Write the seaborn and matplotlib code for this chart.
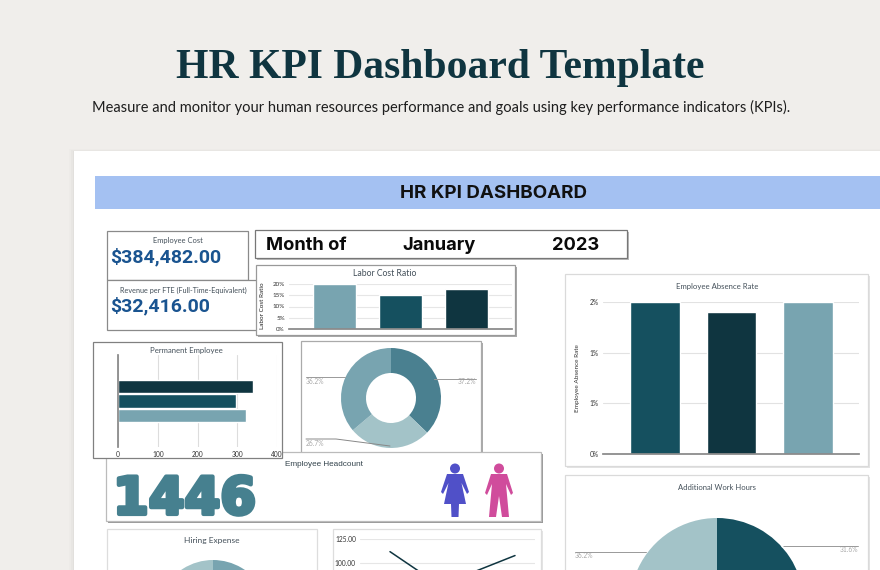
import matplotlib
matplotlib.use('Agg')
import matplotlib.pyplot as plt
from matplotlib.patches import Rectangle, Circle, Polygon
import matplotlib.patheffects as pe
import pandas as pd
import seaborn as sns

# values
labor_cats = ['A', 'B', 'C']
labor_vals = [20, 15, 18]
labor_ticks = [0, 5, 10, 15, 20]

perm_cats = ['Full', 'Part', 'Contract']
perm_vals = [340, 298, 323]
perm_ticks = [0, 100, 200, 300, 400]

donut_vals = [37.2, 26.7, 36.2]

absence_cats = ['A', 'B', 'C']
absence_vals = [2.0, 1.87, 2.0]
absence_ticks = [0, 0.667, 1.333, 2]
absence_labels = ['0%', '1%', '1%', '2%']

hours_vals = [31.6, 32.2, 36.2]
hiring_vals = [34, 30, 36]

line_x = [1, 2, 3, 4]
line_vals = [112, 83, 91, 108]
line_ticks = [100, 125]

LIGHT = '#78A4B0'
MID = '#15505F'
DARK = '#0F3540'
PALE = '#A3C3C8'
TEAL = '#4A8090'
TXT = '#44505A'
W, H = 880, 570

sns.set_theme(style='white')
plt.rcParams['font.family'] = ['Lato', 'DejaVu Sans']
plt.rcParams['axes.unicode_minus'] = False

fig = plt.figure(figsize=(W / 100, H / 100), dpi=100, facecolor='#F0EEEB')
bg = fig.add_axes([0, 0, 1, 1], zorder=0)
bg.set_xlim(0, W)
bg.set_ylim(H, 0)
bg.axis('off')

# thin layer above the charts for the leader lines
top = fig.add_axes([0, 0, 1, 1], zorder=5)
top.set_xlim(0, W)
top.set_ylim(H, 0)
top.axis('off')


def px_axes(x0, y0, x1, y1):
    # axes from pixel box, y counted from the top
    ax = fig.add_axes([x0 / W, 1 - y1 / H, (x1 - x0) / W, (y1 - y0) / H], zorder=2)
    ax.patch.set_alpha(0)
    return ax


def box(x0, y0, x1, y1, ec='#8A8A8A', lw=0.9, shadow=None):
    if shadow:
        bg.add_patch(Rectangle((x0 + 1.5, y0 + 1.5), x1 - x0, y1 - y0, fc=shadow, ec='none'))
    bg.add_patch(Rectangle((x0, y0), x1 - x0, y1 - y0, fc='white', ec=ec, lw=lw))


def clean(ax):
    for s in ax.spines.values():
        s.set_visible(False)
    ax.set_xlabel('')
    ax.set_ylabel('')


# page
for i, a in enumerate([0.03, 0.05, 0.07]):
    bg.add_patch(Rectangle((74 - 5 + i * 2, 151 - 2 + i), 830, 430, fc='#999999', alpha=a, ec='none'))
bg.add_patch(Rectangle((74, 151), 810, 425, fc='white', ec='none'))
bg.add_patch(Rectangle((95, 176), 790, 33, fc='#A4C1F2', ec='none'))

bg.text(440, 68, 'HR KPI Dashboard Template', family='Liberation Serif', weight='bold',
        fontsize=30, color='#0F3540', ha='center', va='center')
bg.text(441, 107, 'Measure and monitor your human resources performance and goals using key performance indicators (KPIs).',
        fontsize=10.5, color='#1E1E1E', ha='center', va='center')
bg.text(494, 193, 'HR KPI DASHBOARD', family='Inter', weight='bold', fontsize=13.5,
        color='#111111', ha='center', va='center')

# boxes
box(107, 231, 248, 280, ec='#8A8A8A')
box(107, 280, 258, 330, ec='#8A8A8A')
box(255, 230, 627, 258, ec='#777777', shadow='#BBBBBB')
box(256, 265, 515, 335, ec='#999999', shadow='#AAAAAA')
box(301, 341, 481, 454, ec='#AAAAAA', shadow='#AAAAAA')
box(106, 452, 541, 521, ec='#BBBBBB', shadow='#999999')
box(93, 342, 282, 458, ec='#808080')
box(565, 274, 868, 466, ec='#DADADA', shadow='#E4E4E4')
box(565, 475, 868, 590, ec='#DADADA', shadow='#E4E4E4')
box(107, 529, 317, 590, ec='#DDDDDD')
box(333, 529, 541, 590, ec='#DDDDDD', shadow='#E4E4E4')

# kpi text
bg.text(178, 241, 'Employee Cost', fontsize=5.4, color=TXT, ha='center', va='center')
bg.text(110, 257, '$384,482.00', family='Roboto', weight='bold', fontsize=14, color='#1A5490', va='center')
bg.text(183, 290, 'Revenue per FTE (Full-Time-Equivalent)', fontsize=5.2, color=TXT, ha='center', va='center')
bg.text(110, 306, '$32,416.00', family='Roboto', weight='bold', fontsize=14, color='#1A5490', va='center')
for x, s in [(266, 'Month of'), (402, 'January'), (552, '2023')]:
    bg.text(x, 245, s, family='Inter', weight='bold', fontsize=13.2, color='#0A0A0A', va='center')

# labor cost ratio
ax = px_axes(289, 284, 512, 329)
sns.barplot(x=labor_cats, y=labor_vals, hue=labor_cats, palette=[LIGHT, MID, DARK],
            width=0.65, saturation=1, legend=False, ax=ax)
ax.set_xlim(-0.69, 2.69)
ax.set_ylim(0, 20)
clean(ax)
ax.set_axisbelow(True)
ax.set_yticks(labor_ticks, [f'{v}%' for v in labor_ticks])
ax.set_xticks([])
ax.grid(axis='y', color='#E6E6E6', lw=0.8)
ax.spines['bottom'].set_visible(True)
ax.spines['bottom'].set_color('#888888')
ax.tick_params(axis='y', labelsize=4.5, labelcolor='#333333', length=0, pad=3)
bg.text(385, 274, 'Labor Cost Ratio', fontsize=6.2, color=TXT, ha='center', va='center')
bg.text(263, 306, 'Labor Cost Ratio', fontsize=4.6, color='#222222', rotation=90, ha='center', va='center')

# permanent employee
ax = px_axes(118, 355, 277, 447)
perm_df = pd.DataFrame({'cat': perm_cats, 'val': perm_vals})
sns.barplot(data=perm_df, y='cat', x='val', hue='cat', palette=[DARK, MID, LIGHT],
            width=0.9, saturation=1, legend=False, ax=ax)
ax.set_xlim(0, 400)
ax.set_ylim(4.17, -2.17)
clean(ax)
ax.set_axisbelow(True)
ax.set_xticks(perm_ticks)
ax.set_yticks([])
ax.grid(axis='x', color='#DDDDDD', lw=0.8)
ax.spines['left'].set_visible(True)
ax.spines['left'].set_color('#888888')
ax.tick_params(axis='x', labelsize=4.8, labelcolor='#333333', length=0, pad=3)
bg.text(186, 350, 'Permanent Employee', fontsize=5.6, color=TXT, ha='center', va='center')

# donut
ax = px_axes(341, 348, 441, 448)
ax.pie(donut_vals, colors=[TEAL, PALE, LIGHT], startangle=90, counterclock=False, radius=1,
       wedgeprops=dict(width=0.5, linewidth=0))
ax.set_xlim(-1, 1)
ax.set_ylim(-1, 1)
top.plot([306, 345], [377, 377], color='#999999', lw=0.7)
top.plot([434, 476], [379, 379], color='#999999', lw=0.7)
top.plot([306, 336, 390], [439, 439, 446], color='#888888', lw=0.7)
bg.text(306, 381, '36.2%', fontsize=4.8, color='#AAAAAA', va='center')
bg.text(476, 382, '37.2%', fontsize=4.8, color='#AAAAAA', va='center', ha='right')
bg.text(306, 443, '26.7%', fontsize=4.8, color='#AAAAAA', va='center')

# headcount
bg.text(324, 464, 'Employee Headcount', family='Liberation Sans', fontsize=5.9, color='#33434C',
        ha='center', va='center')
bg.text(113, 500, '1446', family='DejaVu Sans', weight='bold', fontsize=37, color='#46808F',
        va='center', path_effects=[pe.withStroke(linewidth=3, foreground='#46808F')])


def woman(cx, col):
    bg.add_patch(Circle((cx, 468.5), 5, fc=col, ec='none'))
    bg.add_patch(Polygon([(cx - 8, 474), (cx + 8, 474), (cx + 14, 492), (cx + 12, 494), (cx + 6.5, 483),
                          (cx + 11, 504), (cx + 4, 504), (cx + 3.5, 517), (cx - 3.5, 517), (cx - 4, 504),
                          (cx - 11, 504), (cx - 6.5, 483), (cx - 12, 494), (cx - 14, 492)], fc=col, ec='none'))


def man(cx, col):
    bg.add_patch(Circle((cx, 468.5), 5, fc=col, ec='none'))
    bg.add_patch(Polygon([(cx - 8, 474), (cx + 8, 474), (cx + 14, 493), (cx + 12, 495), (cx + 7, 484),
                          (cx + 10, 517), (cx + 3, 517), (cx, 496), (cx - 3, 517), (cx - 10, 517),
                          (cx - 7, 484), (cx - 12, 495), (cx - 14, 493)], fc=col, ec='none'))


woman(455, '#5050C8')
man(499, '#D04C9C')

# absence rate
ax = px_axes(603, 302, 859, 454)
sns.barplot(x=absence_cats, y=absence_vals, hue=absence_cats, palette=[MID, DARK, LIGHT],
            width=0.65, saturation=1, legend=False, ax=ax)
ax.set_xlim(-0.68, 2.67)
ax.set_ylim(0, 2)
clean(ax)
ax.set_axisbelow(True)
ax.set_yticks(absence_ticks, absence_labels)
ax.set_xticks([])
ax.grid(axis='y', color='#E2E2E2', lw=0.8)
ax.spines['bottom'].set_visible(True)
ax.spines['bottom'].set_color('#888888')
ax.tick_params(axis='y', labelsize=4.8, labelcolor='#333333', length=0, pad=3)
bg.text(717, 287, 'Employee Absence Rate', fontsize=5.6, color=TXT, ha='center', va='center')
bg.text(577, 378, 'Employee Absence Rate', fontsize=4.6, color='#333333', rotation=90, ha='center', va='center')

# additional work hours, runs off the bottom edge
ax = px_axes(630, 518, 804, 692)
ax.pie(hours_vals, colors=[MID, LIGHT, PALE], startangle=90, counterclock=False, radius=1,
       wedgeprops=dict(linewidth=0))
ax.set_xlim(-1, 1)
ax.set_ylim(-1, 1)
top.plot([575, 646], [552, 552], color='#999999', lw=0.7)
top.plot([782, 858], [546, 546], color='#999999', lw=0.7)
top.plot([782], [546], marker='o', ms=1.5, color='white', mew=0)
bg.text(717, 488, 'Additional Work Hours', fontsize=5.5, color=TXT, ha='center', va='center')
bg.text(575, 556, '36.2%', fontsize=4.8, color='#AAAAAA', va='center')
bg.text(858, 549, '31.6%', fontsize=4.8, color='#AAAAAA', va='center', ha='right')

# hiring expense
ax = px_axes(157, 560, 269, 672)
ax.pie(hiring_vals, colors=[LIGHT, MID, PALE], startangle=90, counterclock=False, radius=1,
       wedgeprops=dict(linewidth=0))
ax.set_xlim(-1, 1)
ax.set_ylim(-1, 1)
bg.text(212, 541, 'Hiring Expense', fontsize=6, color=TXT, ha='center', va='center')

# line chart, also cut by the bottom edge
ax = px_axes(360, 539, 535, 612)
sns.lineplot(x=line_x, y=line_vals, color=DARK, lw=1.1, ax=ax)
ax.set_xlim(1 - 30 / 41.7, 4 + 20 / 41.7)
ax.set_ylim(50, 125)
clean(ax)
ax.set_axisbelow(True)
ax.set_xticks([])
ax.set_yticks(line_ticks, [f'{v:.2f}' for v in line_ticks])
ax.grid(axis='y', color='#E6E6E6', lw=0.8)
ax.tick_params(axis='y', labelsize=4.8, labelcolor='#333333', length=0, pad=3)

fig.savefig('out.png', dpi=100, facecolor=fig.get_facecolor())
